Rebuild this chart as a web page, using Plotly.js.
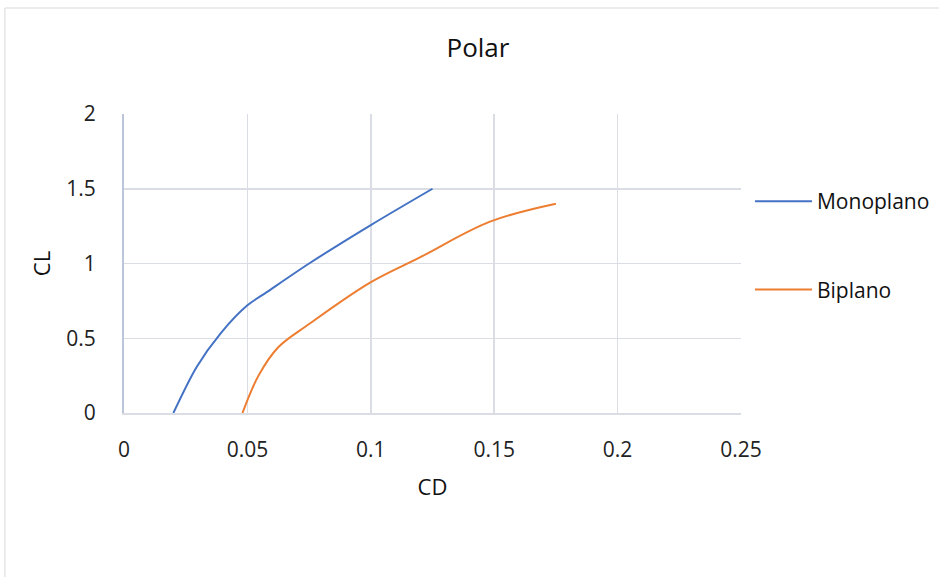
<!DOCTYPE html>
<html>
<head>
<meta charset="utf-8">
<script src="https://cdn.plot.ly/plotly-3.0.1.min.js"></script>
<style>html,body{margin:0;padding:0;background:#fff;}#chart{width:939px;height:577px;}</style>
</head>
<body>
<div id="chart"></div>
<script>
// Data
const monoCD = [0.020, 0.0295, 0.039, 0.050, 0.058, 0.075, 0.100, 0.125];
const monoCL = [0.000, 0.310, 0.530, 0.720, 0.810, 1.000, 1.257, 1.500];
const biCD = [0.048, 0.0545, 0.0625, 0.075, 0.0997, 0.1199, 0.1483, 0.175];
const biCL = [0.000, 0.250, 0.440, 0.595, 0.872, 1.041, 1.280, 1.400];
const xTicks = [0, 0.05, 0.1, 0.15, 0.2, 0.25];
const xTickText = ["0", "0.05", "0.1", "0.15", "0.2", "0.25"];
const yTicks = [0, 0.5, 1, 1.5, 2];
const yTickText = ["0", "0.5", "1", "1.5", "2"];
const seriesNames = ["Monoplano", "Biplano"];

const FONT = "Open Sans, Noto Sans, sans-serif";
const GRID = "#dadde4";

const traces = [
  {x: monoCD, y: monoCL, name: seriesNames[0], type: "scatter", mode: "lines",
   legendgroup: "a", line: {color: "#4472c4", width: 2, shape: "spline", smoothing: 0.9}},
  {x: biCD, y: biCL, name: seriesNames[1], type: "scatter", mode: "lines",
   legendgroup: "b", line: {color: "#ed7d31", width: 2, shape: "spline", smoothing: 1}}
];

const layout = {
  width: 939, height: 577,
  margin: {l: 124, r: 198, t: 114, b: 164},
  paper_bgcolor: "#ffffff", plot_bgcolor: "#ffffff",
  font: {family: FONT, color: "#222222", size: 21},
  title: {text: "Polar", font: {family: FONT, size: 26, color: "#111111"},
          xref: "container", yref: "container", x: 0.509, y: 0.917, xanchor: "center", yanchor: "middle"},
  xaxis: {range: [0, 0.25], tickvals: xTicks, ticktext: xTickText,
          showgrid: true, gridcolor: GRID, gridwidth: 1.5,
          showline: true, linecolor: GRID, linewidth: 1.5, zeroline: false,
          ticks: "", ticklabelstandoff: 17, tickfont: {size: 21, color: "#222"},
          title: {text: "CD", font: {size: 22, color: "#111"}, standoff: 18}, fixedrange: true},
  yaxis: {range: [0, 2], tickvals: yTicks, ticktext: yTickText,
          showgrid: true, gridcolor: GRID, gridwidth: 1.5,
          showline: true, linecolor: "#bcc6da", linewidth: 2, zeroline: false,
          ticks: "", ticklabelstandoff: 22, tickfont: {size: 21, color: "#222"},
          title: {text: "CL", font: {size: 22, color: "#111"}, standoff: 10}, fixedrange: true},
  legend: {xref: "container", yref: "container", x: 0.7987, xanchor: "left", y: 0.6863, yanchor: "top",
           font: {size: 21, color: "#111"}, traceorder: "grouped", tracegroupgap: 58,
           itemwidth: 57, bgcolor: "rgba(0,0,0,0)"},
  showlegend: true,
  shapes: [{type: "rect", xref: "paper", yref: "paper", x0: -0.193, x1: 1.34, y0: -0.57, y1: 1.3545,
            line: {color: "#d9d9d9", width: 1}, fillcolor: "rgba(0,0,0,0)", layer: "below"}]
};

Plotly.newPlot("chart", traces, layout, {displayModeBar: false, staticPlot: true});
</script>
</body>
</html>
